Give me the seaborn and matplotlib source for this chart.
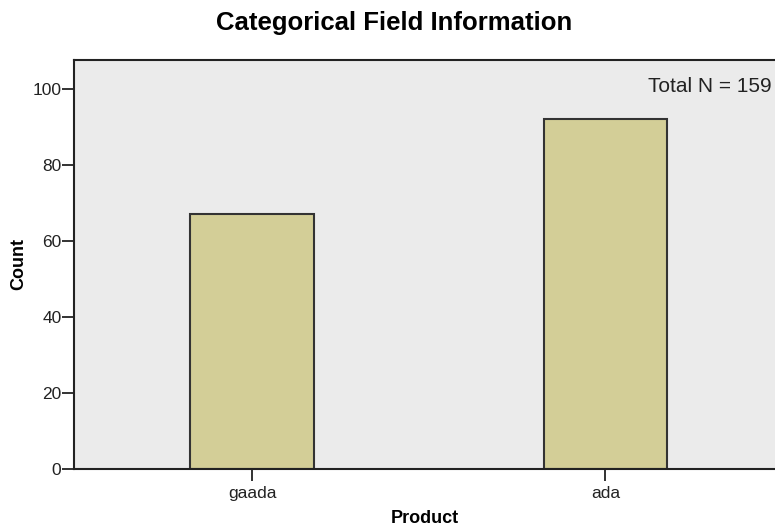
import matplotlib
matplotlib.use("Agg")
import matplotlib.pyplot as plt
import seaborn as sns
import pandas as pd

categories = ["gaada", "ada"]
counts = [67, 92]
yticks = [0, 20, 40, 60, 80, 100]

sns.set_theme(style="white")
plt.rcParams['font.family'] = ['Liberation Sans', 'DejaVu Sans']

df = pd.DataFrame({"Product": categories, "Count": counts})

fig = plt.figure(figsize=(7.75, 5.27), dpi=100)
ax = fig.add_axes([74/775, 1-469/527, 1-74/775, (469-60)/527])
ax.set_facecolor("#EBEBEB")

sns.barplot(data=df, x="Product", y="Count", order=categories, color="#D3CE97",
            saturation=1, width=0.35, edgecolor="#333333", linewidth=1.5, ax=ax)

ax.set_xlim(-0.504, 1.48)
ax.set_ylim(0, 107.6)
ax.set_yticks(yticks)
ax.set_yticklabels([str(t) for t in yticks])

for s in ["left", "top", "bottom"]:
    ax.spines[s].set_color("#222222")
    ax.spines[s].set_linewidth(1.5)
ax.spines["right"].set_visible(False)

ax.tick_params(axis="both", which="both", length=8.5, width=1.3, color="#222222",
               labelsize=12.5, labelcolor="#222222", bottom=True, left=True)
ax.tick_params(axis="y", pad=0.5)
ax.tick_params(axis="x", pad=4)

ax.set_xlabel("Product", fontsize=13, fontweight="bold", color="black", labelpad=6.5)
ax.set_ylabel("Count", fontsize=13, fontweight="bold", color="black", labelpad=4)

ax.text(0.995, 0.935, "Total N = %d" % sum(counts), transform=ax.transAxes,
        ha="right", va="center", fontsize=15, color="#222222")

fig.text(394/775, 1-23/527, "Categorical Field Information", ha="center", va="center",
         fontsize=18.5, fontweight="bold", color="black")

fig.savefig("out.png", dpi=100)
